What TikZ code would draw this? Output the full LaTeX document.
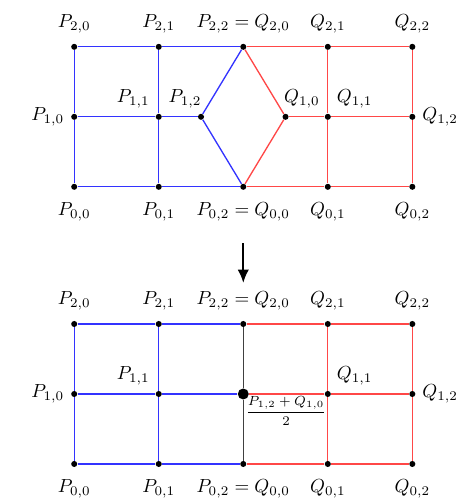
\documentclass[tikz,border=0pt]{standalone}
\usepackage{amsmath,amssymb}
\usepackage{xcolor}
\usepackage{tikz}
\usetikzlibrary{arrows.meta,positioning}

\begin{document}
\begin{tikzpicture}[x=1.57cm, y=1.3cm, >=Latex,
  dot/.style={circle, fill=black, inner sep=0pt, minimum size=3.2pt},
  bigdot/.style={circle, fill=black, inner sep=0pt, minimum size=5.8pt},
  pline/.style={draw=blue!80, line width=0.7pt},
  qline/.style={draw=red!72, line width=0.7pt},
  mline/.style={draw=black!75, line width=0.7pt},
  label distance=1pt]

\useasboundingbox (-0.878,-0.529) rectangle (4.688,6.629);

% first pair of patches
\node[dot, label={[label distance=3pt]below:$P_{0,0}$}] (t00) at (0,3.96) {};
\node[dot, label={[label distance=3pt]below:$P_{0,1}$}] (t01) at (1,3.96) {};
\node[dot, label={[label distance=3pt]below:$P_{0,2}=Q_{0,0}$}] (t02) at (2,3.96) {};
\node[dot, label={[label distance=3pt]below:$Q_{0,1}$}] (tq01) at (3,3.96) {};
\node[dot, label={[label distance=3pt]below:$Q_{0,2}$}] (tq02) at (4,3.96) {};
\node[dot, label={[label distance=0pt]left:$P_{1,0}$}] (t10) at (0,4.96) {};
\node[dot, label={[label distance=0pt]above left:$P_{1,1}$}] (t11) at (1,4.96) {};
\node[dot] (t12) at (1.5,4.96) {};
\node[dot] (tq10) at (2.5,4.96) {};
\node[dot, label={[label distance=0pt]above right:$Q_{1,1}$}] (tq11) at (3,4.96) {};
\node[dot, label={[label distance=0pt]right:$Q_{1,2}$}] (tq12) at (4,4.96) {};
\node[dot, label={[label distance=2pt]above:$P_{2,0}$}] (t20) at (0,5.96) {};
\node[dot, label={[label distance=2pt]above:$P_{2,1}$}] (t21) at (1,5.96) {};
\node[dot, label={[label distance=2pt]above:$P_{2,2}=Q_{2,0}$}] (t22) at (2,5.96) {};
\node[dot, label={[label distance=2pt]above:$Q_{2,1}$}] (tq21) at (3,5.96) {};
\node[dot, label={[label distance=2pt]above:$Q_{2,2}$}] (tq22) at (4,5.96) {};
\node[above left=0pt and -5pt of t12] (lt12) {$P_{1,2}$};
\node[above right=0pt and -5.5pt of tq10] (ltq10) {$Q_{1,0}$};

\draw[pline] (t00) -- (t01) -- (t02);
\draw[pline] (t10) -- (t11) -- (t12);
\draw[pline] (t20) -- (t21) -- (t22);
\draw[pline] (t00) -- (t10) -- (t20);
\draw[pline] (t01) -- (t11) -- (t21);
\draw[pline] (t22) -- (t12) -- (t02);
\draw[qline] (t02) -- (tq01) -- (tq02);
\draw[qline] (tq10) -- (tq11) -- (tq12);
\draw[qline] (t22) -- (tq21) -- (tq22);
\draw[qline] (t22) -- (tq10) -- (t02);
\draw[qline] (tq01) -- (tq11) -- (tq21);
\draw[qline] (tq02) -- (tq12) -- (tq22);

% arrow
\coordinate (arrtop) at (2,3.157);
\coordinate (arrbot) at (2,2.586);
\draw[-{Latex[length=7pt,width=6pt]}, line width=1.1pt] (arrtop) -- (arrbot);

% joined patches
\node[dot, label={[label distance=3pt]below:$P_{0,0}$}] (b00) at (0,0) {};
\node[dot, label={[label distance=3pt]below:$P_{0,1}$}] (b01) at (1,0) {};
\node[dot, label={[label distance=3pt]below:$P_{0,2}=Q_{0,0}$}] (b02) at (2,0) {};
\node[dot, label={[label distance=3pt]below:$Q_{0,1}$}] (bq01) at (3,0) {};
\node[dot, label={[label distance=3pt]below:$Q_{0,2}$}] (bq02) at (4,0) {};
\node[dot, label={[label distance=0pt]left:$P_{1,0}$}] (b10) at (0,1) {};
\node[dot, label={[label distance=0pt]above left:$P_{1,1}$}] (b11) at (1,1) {};
\node[bigdot, label={[label distance=-3pt, inner sep=1pt, font=\scriptsize]below right:$\dfrac{P_{1,2}+Q_{1,0}}{2}$}] (bm) at (2,1) {};
\node[dot, label={[label distance=0pt]above right:$Q_{1,1}$}] (bq11) at (3,1) {};
\node[dot, label={[label distance=0pt]right:$Q_{1,2}$}] (bq12) at (4,1) {};
\node[dot, label={[label distance=2pt]above:$P_{2,0}$}] (b20) at (0,2) {};
\node[dot, label={[label distance=2pt]above:$P_{2,1}$}] (b21) at (1,2) {};
\node[dot, label={[label distance=2pt]above:$P_{2,2}=Q_{2,0}$}] (b22) at (2,2) {};
\node[dot, label={[label distance=2pt]above:$Q_{2,1}$}] (bq21) at (3,2) {};
\node[dot, label={[label distance=2pt]above:$Q_{2,2}$}] (bq22) at (4,2) {};

\draw[pline] (b00) -- (b01) -- (b02);
\draw[pline] (b10) -- (b11) -- (bm);
\draw[pline] (b20) -- (b21) -- (b22);
\draw[pline] (b00) -- (b10) -- (b20);
\draw[pline] (b01) -- (b11) -- (b21);
\draw[mline] (b22) -- (bm) -- (b02);
\draw[qline] (b02) -- (bq01) -- (bq02);
\draw[qline] (bm) -- (bq11) -- (bq12);
\draw[qline] (b22) -- (bq21) -- (bq22);
\draw[qline] (bq01) -- (bq11) -- (bq21);
\draw[qline] (bq02) -- (bq12) -- (bq22);
\end{tikzpicture}
\end{document}
